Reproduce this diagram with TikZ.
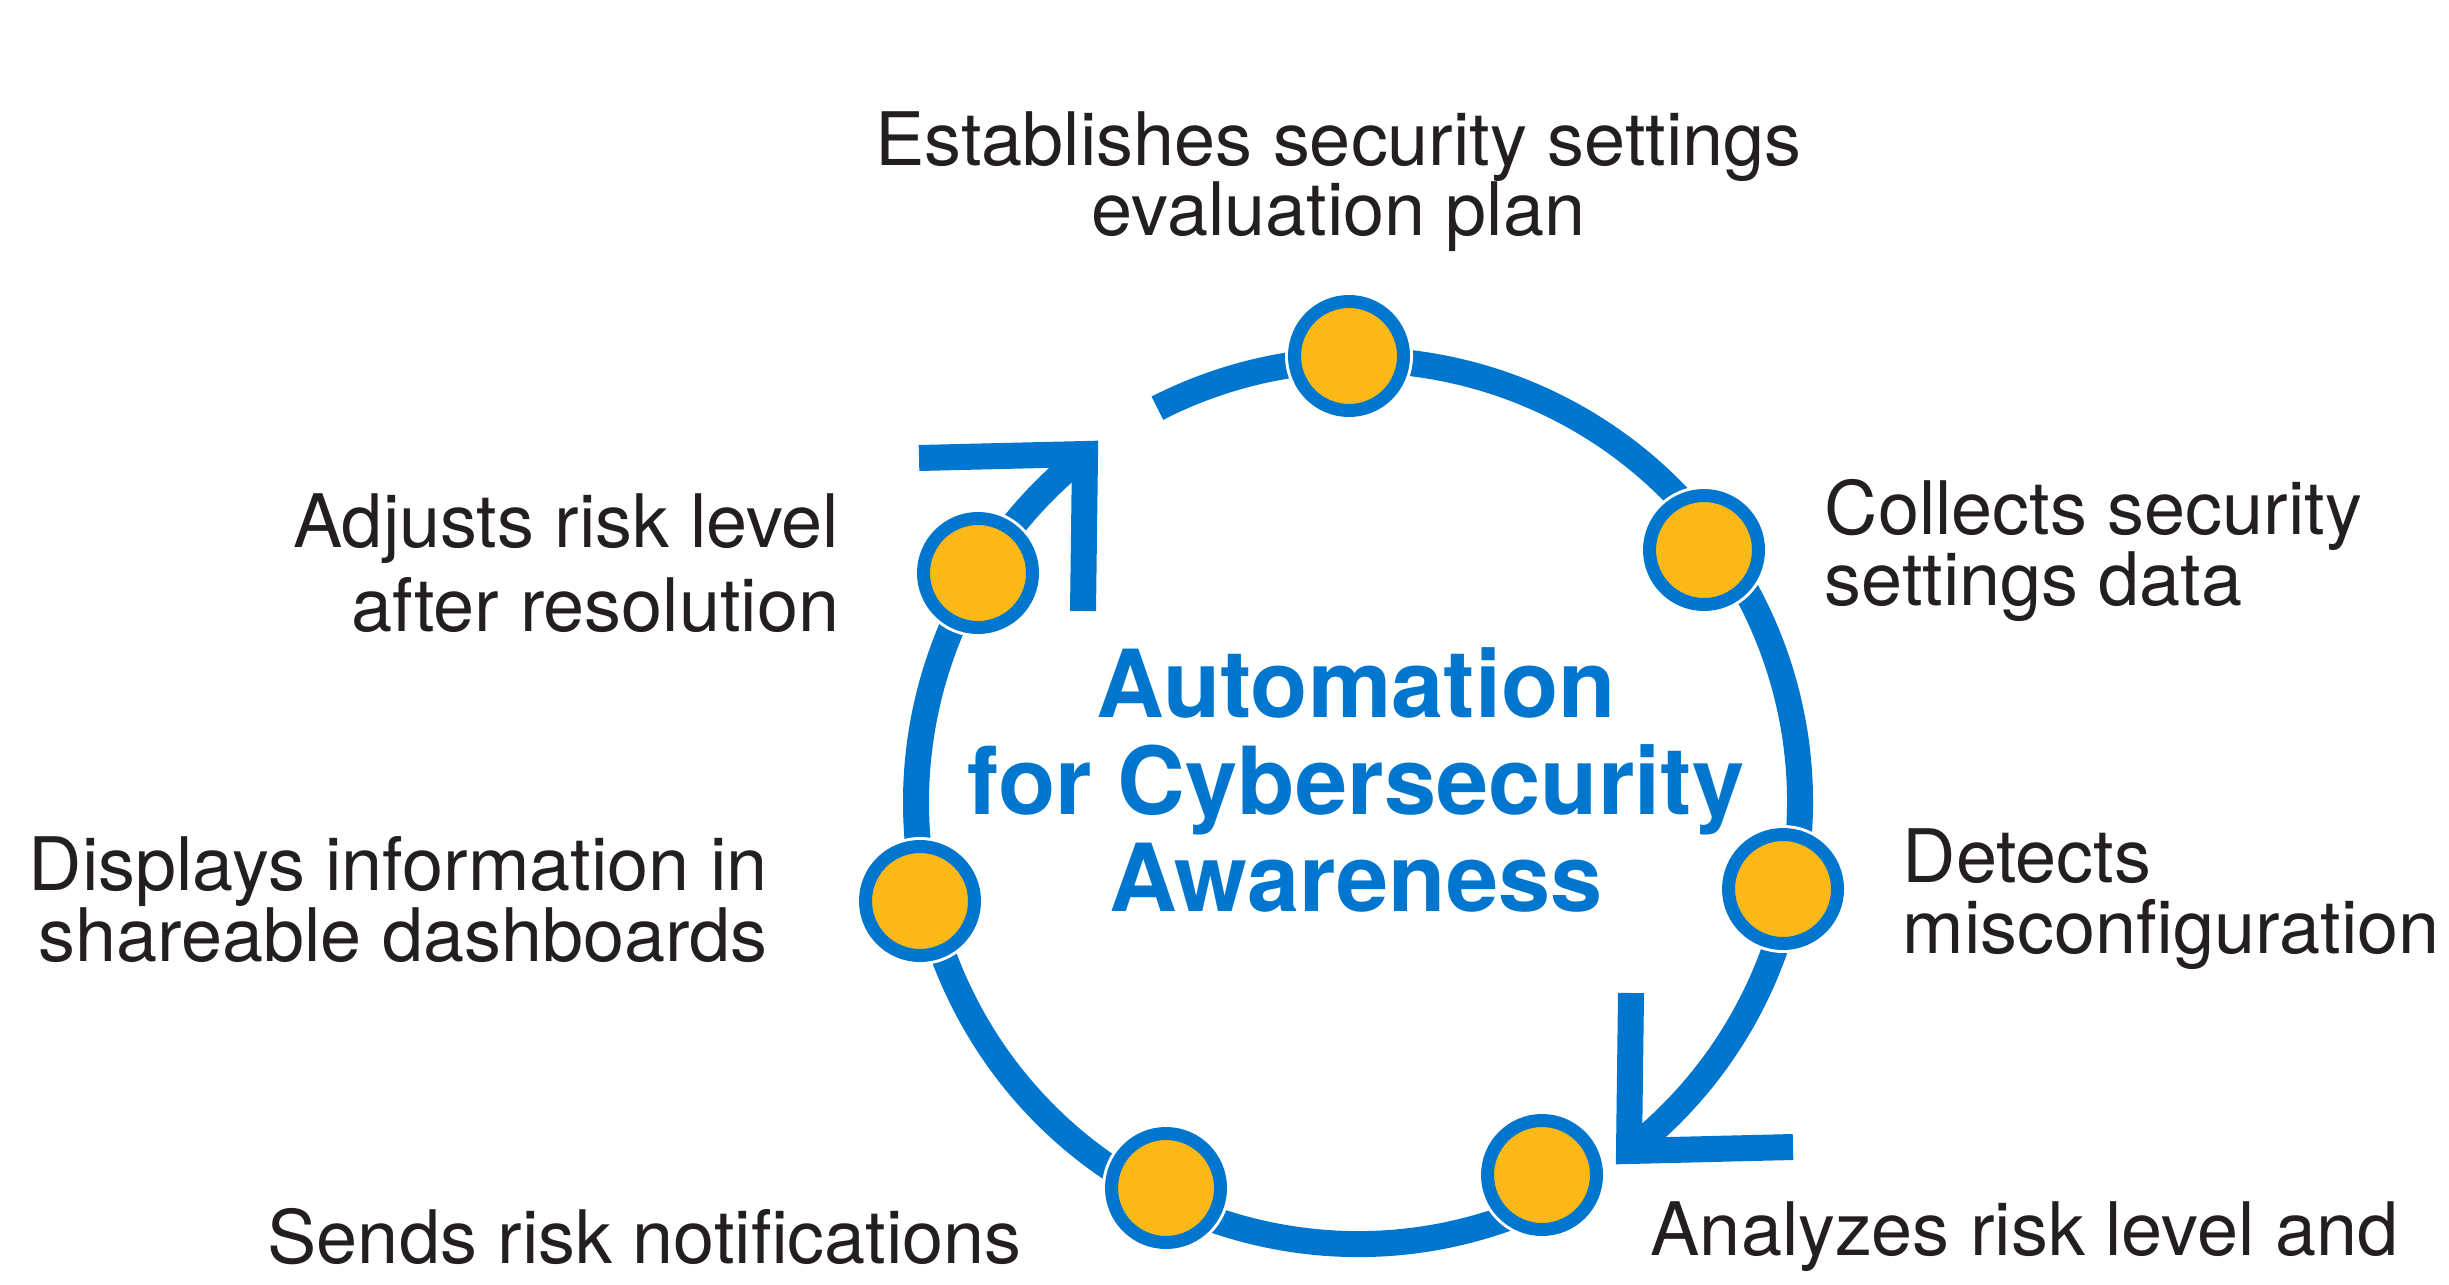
\documentclass[tikz,border=0pt]{standalone}
\usepackage{fontspec}
\setmainfont{TeX Gyre Heros}
\usepackage{xcolor}
\usepackage{tikz}

\definecolor{ringblue}{HTML}{0076CE}
\definecolor{dotyellow}{HTML}{FBB817}
\definecolor{textgray}{HTML}{231F20}

\tikzset{
  ring/.style={draw=ringblue, line width=0.26cm},
  chevron/.style={ring, line join=miter},
  dot/.style={circle, fill=dotyellow, draw=ringblue, line width=0.13cm,
    minimum size=1.09cm, inner sep=0pt,
    preaction={draw=white, line width=0.19cm}},
  steplabel/.style={text=textgray, inner sep=0pt,
    font=\fontsize{21}{20.2}\selectfont},
  widelabel/.style={steplabel, font=\fontsize{21}{23.9}\selectfont},
  hublabel/.style={text=ringblue, inner sep=0pt, align=center,
    font=\bfseries\fontsize{26.7}{27.5}\selectfont}
}

\begin{document}
\begin{tikzpicture}
    \useasboundingbox (0,0) rectangle (24.49,12.84);
    \clip (0,0) rectangle (24.49,12.84);

    % ring and arrow tips
    \coordinate (ringc) at (13.58,4.82);
    \coordinate (upTip) at (10.85,8.30);
    \coordinate (upArmH) at (9.19,8.26);
    \coordinate (upArmV) at (10.83,6.73);
    \coordinate (lowTip) at (16.29,1.33);
    \coordinate (lowArmH) at (17.93,1.37);
    \coordinate (lowArmV) at (16.31,2.91);

    \draw[ring] (ringc) ++(117:4.42) arc[start angle=117, end angle=-52.2, radius=4.42];
    \draw[ring] (ringc) ++(-64:4.42) arc[start angle=-64, end angle=-231.9, radius=4.42];
    \draw[chevron] (upArmH) -- (upTip) -- (upArmV);
    \draw[chevron] (lowArmV) -- (lowTip) -- (lowArmH);

    % steps
    \node[dot] (plan) at (13.49,9.28) {};
    \node[dot] (collect) at (17.04,7.34) {};
    \node[dot] (detect) at (17.83,3.95) {};
    \node[dot] (analyze) at (15.42,1.09) {};
    \node[dot] (notify) at (11.66,0.96) {};
    \node[dot] (display) at (9.20,3.83) {};
    \node[dot] (adjust) at (9.78,7.11) {};

    % labels (base = last line)
    \node[steplabel, align=center, anchor=base] (planText) at (13.385,10.48)
      {Establishes security settings\\evaluation plan};
    \node[steplabel, align=left, anchor=base west] (collectText) at (18.24,6.79)
      {Collects security\\settings data};
    \node[steplabel, align=left, anchor=base west] (detectText) at (19.02,3.31)
      {Detects\\misconfiguration};
    \node[steplabel, anchor=base west] (analyzeText) at (16.50,0.29)
      {Analyzes risk level and};
    \node[steplabel, anchor=base west] (notifyText) at (2.67,0.21)
      {Sends risk notifications};
    \node[steplabel, align=right, anchor=base east] (displayText) at (7.685,3.23)
      {Displays information in\\shareable dashboards};
    \node[widelabel, align=right, anchor=base east] (adjustText) at (8.40,6.53)
      {Adjusts risk level\\after resolution};

    \node[hublabel, anchor=base] (hub) at (13.56,3.73)
      {Automation\\for Cybersecurity\\Awareness};
\end{tikzpicture}
\end{document}
